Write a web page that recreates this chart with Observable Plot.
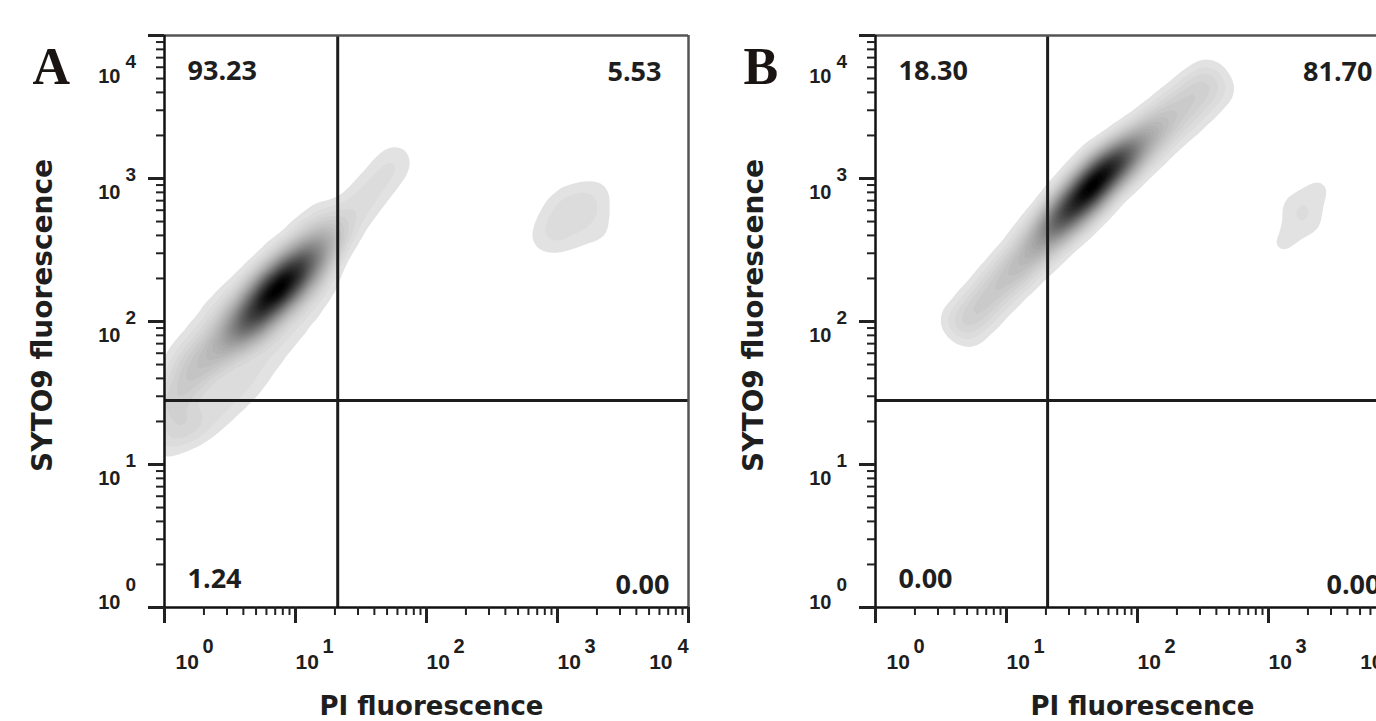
<!DOCTYPE html>
<html>
<head>
<meta charset="utf-8">
<script src="https://cdn.jsdelivr.net/npm/d3@7"></script>
<script src="https://cdn.jsdelivr.net/npm/@observablehq/plot@0.6"></script>
<style>
  html, body { margin: 0; padding: 0; background: #fff; overflow: hidden; width: 1376px; height: 721px; }
  #wrap { position: relative; width: 1376px; height: 721px; overflow: hidden; }
  .panel { position: absolute; top: 0; width: 711px; height: 721px; }
  .panel svg { max-width: none !important; width: 711px; height: 721px; }
</style>
</head>
<body>
<div id="wrap"></div>
<script>
// ---------- data ----------
const panelLetters = ["A", "B"];
const xTitle = "PI fluorescence";
const yTitle = "SYTO9 fluorescence";

const majorTicks = [1, 10, 100, 1000, 10000];
const tickBase = ["10", "10", "10", "10", "10"];
const tickExp = ["0", "1", "2", "3", "4"];
const minorTicks = [2, 3, 4, 5, 6, 7, 8, 9, 20, 30, 40, 50, 60, 70, 80, 90,
  200, 300, 400, 500, 600, 700, 800, 900, 2000, 3000, 4000, 5000, 6000, 7000, 8000, 9000];

// quadrant percentages: upper-left, upper-right, lower-left, lower-right
const quadA = ["93.23", "5.53", "1.24", "0.00"];
const quadB = ["18.30", "81.70", "0.00", "0.00"];

// gate positions (PI, SYTO9)
const gateA = [21, 28];
const gateB = [20.6, 28];

// event-density skeleton (PI, SYTO9, relative weight)
const densA_pi = [
  3.19, 3.8, 4.53, 5.41, 6.44, 7.68, 9.16, 10.9, 13.0, 15.5, 18.5,          // core ridge
  2.58, 2.06, 1.64, 1.28, 1.02,                                             // base of fan
  1.32, 1.64, 2.06, 2.58, 3.30, 4.53, 6.22, 8.39, 11.9, 16.1,               // upper-left edge
  1.21, 1.58, 2.06, 2.58, 3.30, 4.08, 4.95, 6.22, 7.68, 9.49, 11.5, 13.7, 16.1, // lower-right edge
  0.965, 1.45,                                                              // below gate
  22.9, 27.2, 32.5, 38.7, 46.2, 55.0, 61.1,                                 // tail
  1256, 885, 1786, 1302, 1172, 742, 2056, 2130, 966, 1950];                 // PI+ cluster
const densA_syto = [
  74.8, 87.9, 103, 125, 150, 176, 206, 243, 285, 334, 393,
  61.7, 50.8, 39.3, 31.4, 25.5,
  48.4, 61.7, 81.1, 107, 138, 176, 231, 299, 412, 542,
  17.0, 18.7, 20.6, 24.6, 29.9, 36.8, 46.1, 59.7, 78.5, 100, 127, 162, 206,
  14.5, 18.4,
  461, 569, 691, 838, 1016, 1233, 1425,
  542, 440, 668, 748, 375, 363, 485, 838, 637, 393];
const densA_w = [
  1.5, 2.5, 3.5, 4.5, 5, 5, 4.5, 3.5, 2.5, 1.6, 1.0,
  1.2, 1.0, 0.9, 0.8, 0.7,
  0.45, 0.45, 0.45, 0.45, 0.45, 0.45, 0.45, 0.45, 0.4, 0.35,
  0.35, 0.35, 0.35, 0.35, 0.35, 0.35, 0.35, 0.35, 0.35, 0.35, 0.35, 0.35, 0.35,
  0.4, 0.3,
  0.5, 0.4, 0.35, 0.35, 0.3, 0.3, 0.2,
  0.45, 0.35, 0.35, 0.25, 0.25, 0.2, 0.2, 0.2, 0.2, 0.18];

const densB_pi = [
  4.535, 5.312, 6.222, 7.289, 8.538, 10.0, 11.71, 13.72, 16.07, 18.83, 22.05, 25.84, 30.27, 35.45, 41.53,
  48.64, 56.98, 66.75, 78.19, 91.59, 107.3, 125.7, 147.2, 172.4, 202.0, 236.6, 277.1, 324.8, 380.4,   // ridge
  3.805, 5.220, 7.161, 9.826, 13.49, 18.50, 25.39, 34.83, 47.79, 67.94, 93.22, 127.9, 175.5, 240.8, 330.4, // upper-left edge
  5.501, 7.548, 10.36, 14.21, 19.50, 26.76, 36.72, 50.39, 69.14, 93.22, 127.9, 175.5, 240.8, 330.4, 453.5, // lower-right edge
  1754, 2130, 1446, 1213, 2539, 2168, 1499];                                                           // PI+ cluster
const densB_syto = [
  92.3, 107.9, 126.1, 147.4, 172.1, 201.2, 235.1, 274.9, 321.4, 375.7, 438.5, 512.6, 599.3, 700.5, 819.0,
  957.5, 1119, 1265, 1432, 1619, 1829, 2071, 2340, 2645, 2994, 3384, 3823, 4329, 4893,
  106.7, 144.8, 199.8, 271.5, 374.5, 508.5, 690.6, 952.8, 1294, 1648, 2097, 2671, 3455, 4399, 5602,
  78.55, 106.7, 147.2, 199.8, 271.5, 374.5, 508.5, 701.8, 952.8, 1175, 1495, 1935, 2464, 3137, 4058,
  542, 724, 406, 324, 879, 485, 658];
const densB_w = [
  0.5, 0.55, 0.6, 0.65, 0.7, 0.8, 0.9, 1.0, 1.3, 1.8, 2.5, 3.3, 4.2, 5, 5.5,
  5.5, 5, 4, 3, 2.2, 1.5, 1.1, 0.8, 0.6, 0.5, 0.45, 0.4, 0.4, 0.35,
  0.3, 0.35, 0.35, 0.4, 0.45, 0.6, 0.8, 0.9, 0.8, 0.6, 0.5, 0.45, 0.45, 0.45, 0.35,
  0.3, 0.35, 0.35, 0.4, 0.45, 0.6, 0.8, 0.9, 0.8, 0.6, 0.55, 0.5, 0.5, 0.45, 0.35,
  0.28, 0.3, 0.3, 0.22, 0.25, 0.28, 0.28];

// ---------- drawing ----------
const tickRows = majorTicks.map((v, i) => ({v, base: tickBase[i], exp: tickExp[i]}));
const tFirst = tickRows.slice(0, 1), tMid = tickRows.slice(1, 4), tLast = tickRows.slice(4);

const tickFont = {fontFamily: "Liberation Sans, Arial, sans-serif", fontWeight: "bold", fill: "#1e1e1e"};
const quadFont = {fontFamily: "Open Sans, sans-serif", fontWeight: 700, fontSize: 27, fill: "#1e1e1e", lineAnchor: "bottom"};

function panel(letter, px, py, pw, quad, gate, bw) {
  const pts = px.map((x, i) => ({x, y: py[i], w: pw[i]}));
  return Plot.plot({
    width: 711, height: 721,
    marginLeft: 164, marginRight: 23, marginTop: 35, marginBottom: 114,
    x: {type: "log", domain: [1, 1e4]},
    y: {type: "log", domain: [1, 1e4]},
    color: {type: "linear", range: ["#e8e8e8", "#000000"]},
    style: {background: "transparent", overflow: "visible"},
    marks: [
      Plot.density(pts, {x: "x", y: "y", weight: "w", bandwidth: bw, thresholds: 40,
        fill: "density", stroke: "none", clip: true}),
      // gates
      Plot.ruleX([gate[0]], {stroke: "#1c1c1c", strokeWidth: 3}),
      Plot.ruleY([gate[1]], {stroke: "#1c1c1c", strokeWidth: 3}),
      // frame
      Plot.ruleY([1e4], {stroke: "#555", strokeWidth: 2.5}),
      Plot.ruleX([1e4], {stroke: "#555", strokeWidth: 2.5}),
      Plot.ruleX([1], {stroke: "#111", strokeWidth: 2.5}),
      Plot.ruleY([1], {stroke: "#111", strokeWidth: 2.5}),
      // ticks
      Plot.axisX(minorTicks, {tickSize: 8, tickFormat: () => "", strokeWidth: 2, stroke: "#222", label: null}),
      Plot.axisX(majorTicks, {tickSize: 16, tickFormat: () => "", strokeWidth: 3, stroke: "#222", label: null}),
      Plot.axisY(minorTicks, {tickSize: 8, tickFormat: () => "", strokeWidth: 2, stroke: "#222", label: null}),
      Plot.axisY(majorTicks, {tickSize: 16, tickFormat: () => "", strokeWidth: 3, stroke: "#222", label: null}),
      // x tick labels
      Plot.text(tMid, {x: "v", text: "base", frameAnchor: "bottom", textAnchor: "start", lineAnchor: "bottom", dy: 61, fontSize: 21, ...tickFont}),
      Plot.text(tMid, {x: "v", text: "exp", frameAnchor: "bottom", textAnchor: "start", lineAnchor: "bottom", dx: 27, dy: 45, fontSize: 20, ...tickFont}),
      Plot.text(tFirst, {x: "v", text: "base", frameAnchor: "bottom", textAnchor: "start", lineAnchor: "bottom", dx: 11, dy: 61, fontSize: 21, ...tickFont}),
      Plot.text(tFirst, {x: "v", text: "exp", frameAnchor: "bottom", textAnchor: "start", lineAnchor: "bottom", dx: 38, dy: 45, fontSize: 20, ...tickFont}),
      Plot.text(tLast, {x: "v", text: "base", frameAnchor: "bottom", textAnchor: "end", lineAnchor: "bottom", dx: -16, dy: 61, fontSize: 21, ...tickFont}),
      Plot.text(tLast, {x: "v", text: "exp", frameAnchor: "bottom", textAnchor: "end", lineAnchor: "bottom", dx: 0, dy: 45, fontSize: 20, ...tickFont}),
      // y tick labels
      Plot.text(tMid, {y: "v", text: "base", frameAnchor: "left", textAnchor: "end", lineAnchor: "bottom", dx: -44, dy: 20, fontSize: 20, ...tickFont}),
      Plot.text(tMid, {y: "v", text: "exp", frameAnchor: "left", textAnchor: "start", lineAnchor: "bottom", dx: -39, dy: 2, fontSize: 19, ...tickFont}),
      Plot.text(tFirst, {y: "v", text: "base", frameAnchor: "left", textAnchor: "end", lineAnchor: "bottom", dx: -44, dy: 1, fontSize: 20, ...tickFont}),
      Plot.text(tFirst, {y: "v", text: "exp", frameAnchor: "left", textAnchor: "start", lineAnchor: "bottom", dx: -39, dy: -17, fontSize: 19, ...tickFont}),
      Plot.text(tLast, {y: "v", text: "base", frameAnchor: "left", textAnchor: "end", lineAnchor: "bottom", dx: -44, dy: 47, fontSize: 20, ...tickFont}),
      Plot.text(tLast, {y: "v", text: "exp", frameAnchor: "left", textAnchor: "start", lineAnchor: "bottom", dx: -39, dy: 32, fontSize: 19, ...tickFont}),
      // quadrant percentages
      Plot.text([quad[0]], {frameAnchor: "top-left", textAnchor: "start", dx: 23, dy: 44, ...quadFont}),
      Plot.text([quad[1]], {frameAnchor: "top-right", textAnchor: "end", dx: -27, dy: 45, ...quadFont}),
      Plot.text([quad[2]], {frameAnchor: "bottom-left", textAnchor: "start", dx: 23, dy: -20, ...quadFont}),
      Plot.text([quad[3]], {frameAnchor: "bottom-right", textAnchor: "end", dx: -19, dy: -14, ...quadFont}),
      // titles
      Plot.text([xTitle], {frameAnchor: "bottom", textAnchor: "middle", dx: 5, dy: 107, lineAnchor: "bottom",
        fontFamily: "DejaVu Sans, sans-serif", fontWeight: "bold", fontSize: 26, fill: "#1e1e1e"}),
      Plot.text([yTitle], {frameAnchor: "left", textAnchor: "middle", dx: -121, dy: -6, rotate: -90, lineAnchor: "middle",
        fontFamily: "DejaVu Sans, sans-serif", fontWeight: "bold", fontSize: 28, fill: "#1e1e1e"}),
      // panel letter
      Plot.text([letter], {frameAnchor: "top-left", textAnchor: "start", lineAnchor: "bottom", dx: -132, dy: 48,
        fontFamily: "Liberation Serif, serif", fontWeight: "bold", fontSize: 52, fill: "#1a1512"})
    ]
  });
}

const wrap = document.getElementById("wrap");
const specs = [
  [panelLetters[0], densA_pi, densA_syto, densA_w, quadA, gateA, 12],
  [panelLetters[1], densB_pi, densB_syto, densB_w, quadB, gateB, 10]
];
specs.forEach((s, i) => {
  const div = document.createElement("div");
  div.className = "panel";
  div.style.left = (i * 711) + "px";
  div.appendChild(panel(...s));
  wrap.appendChild(div);
});
</script>
</body>
</html>
